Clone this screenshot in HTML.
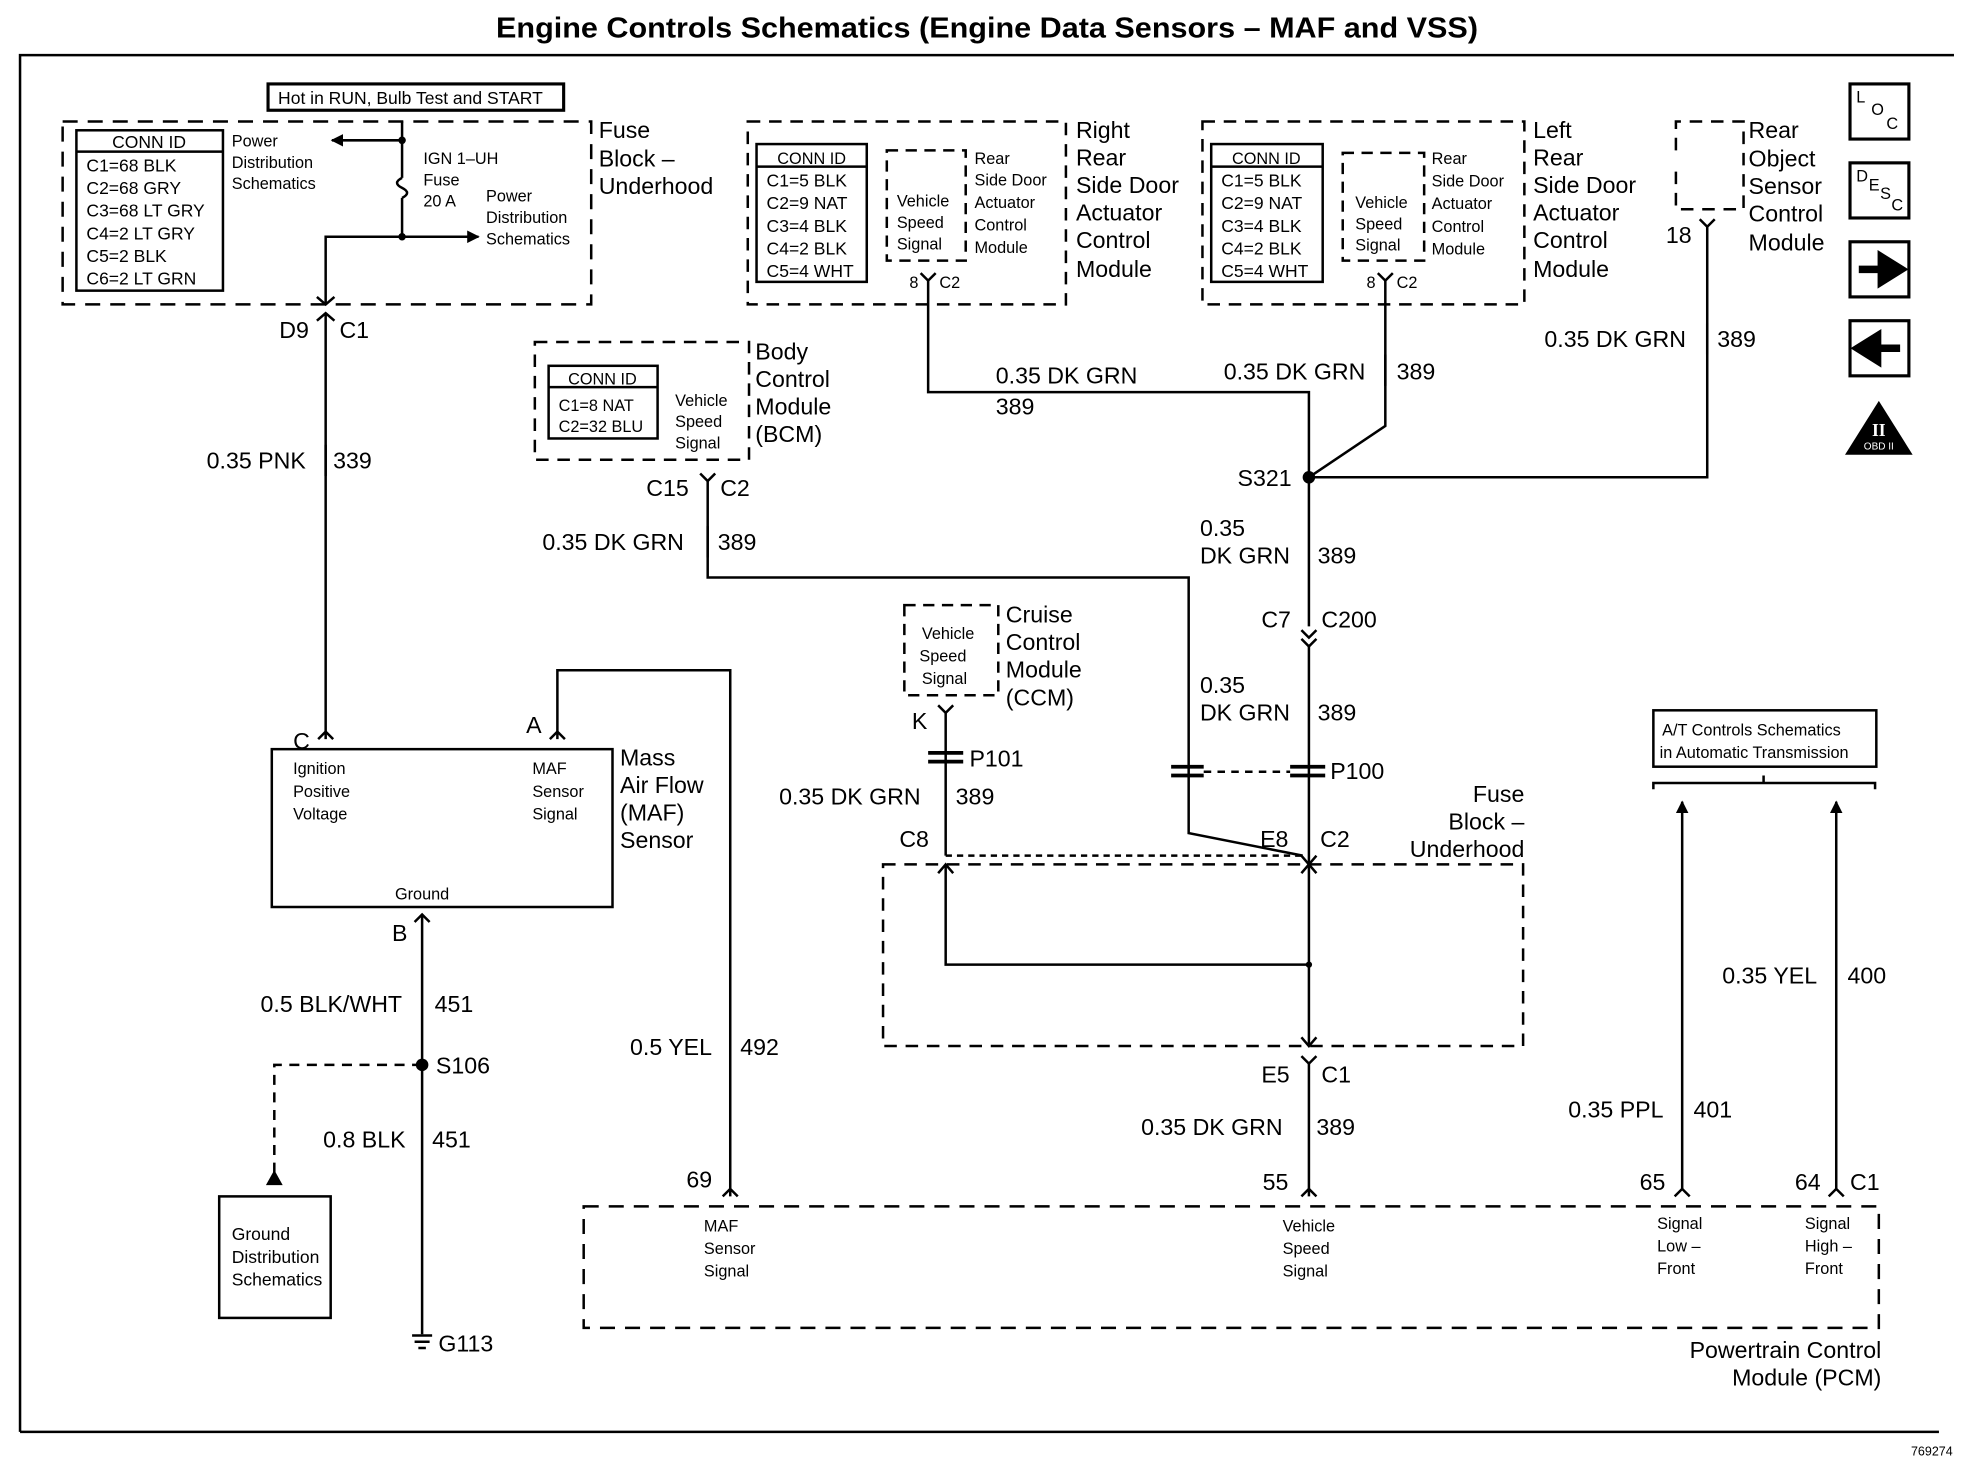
<!DOCTYPE html>
<html><head><meta charset="utf-8"><style>
html,body{margin:0;padding:0;background:#fff}
svg{display:block}
text{font-family:"Liberation Sans",Arial,sans-serif;fill:#000}
.l{font-size:18.5px}
.s{font-size:13px}
.m{font-size:14px}
</style></head><body>
<svg width="1964" height="1472" viewBox="0 0 1568 1175" preserveAspectRatio="none" xmlns="http://www.w3.org/2000/svg">
<defs>
<marker id="ar" markerWidth="10" markerHeight="10" refX="9" refY="5" orient="auto" markerUnits="userSpaceOnUse"><path d="M0,0 L10,5 L0,10 z" fill="#000"/></marker>
</defs>
<g stroke="#000" fill="none" stroke-width="2">
<path d="M16,1143 V44 H1560" />
<path d="M16,1143 H1548" />
<rect x="50" y="97" width="422" height="146" stroke-dasharray="12,8"/>
<rect x="61" y="104" width="117" height="128"/>
<line x1="61" y1="121" x2="178" y2="121"/>
<rect x="214" y="67" width="236" height="21" stroke-width="2.5"/>
<path d="M321,97 V142 M321,158 V189"/>
<path d="M321,142 q-8,4 0,8 q8,4 0,8"/>
<path d="M321,112 H265" marker-end="url(#ar)"/>
<path d="M321,189 H382" marker-end="url(#ar)"/>
<path d="M321,189 H260 V243"/>
<path d="M253,237 L260,243 L267,237"/>
<path d="M260,250 V590"/>
<path d="M253,256 L260,250 L267,256"/>
<rect x="217" y="598" width="272" height="126"/>
<path d="M254,590 L260,584 L266,590"/>
<path d="M445,590 V535 H583 V955"/>
<path d="M439,590 L445,584 L451,590"/>
<path d="M337,730 V1065"/>
<path d="M331,736 L337,730 L343,736"/>
<path d="M337,850 H219 V940" stroke-dasharray="8,6"/>
<path d="M214,945 L219,936 L224,945 z" fill="#000"/>
<rect x="175" y="955" width="89" height="97"/>
<path d="M329,1066 H345 M331,1071 H343 M334,1076 H340"/>
<rect x="427" y="273" width="171" height="94" stroke-dasharray="10,7"/>
<rect x="438" y="292" width="87" height="58"/>
<line x1="438" y1="309" x2="525" y2="309"/>
<path d="M565,384 V461 H949 V665 L1040,683"/>
<path d="M559,378 L565,384 L571,378"/>
<rect x="597" y="97" width="254" height="146" stroke-dasharray="10,7"/>
<rect x="604" y="115" width="88" height="110"/>
<line x1="604" y1="133" x2="692" y2="133"/>
<rect x="708" y="120" width="63" height="88" stroke-dasharray="9,6"/>
<path d="M741,224 V313 H1045 V500"/>
<path d="M735,218 L741,224 L747,218"/>
<rect x="960" y="97" width="257" height="146" stroke-dasharray="10,7"/>
<rect x="967" y="115" width="89" height="110"/>
<line x1="967" y1="133" x2="1056" y2="133"/>
<rect x="1072" y="122" width="65" height="86" stroke-dasharray="9,6"/>
<path d="M1106,224 V340 L1045,381"/>
<path d="M1100,218 L1106,224 L1112,218"/>
<path d="M1338,120 V97 H1392 V167 H1338 V135" stroke-dasharray="10,7"/>
<path d="M1363,181 V381 H1045"/>
<path d="M1357,175 L1363,181 L1369,175"/>
<path d="M1039,503 L1045,509 L1051,503 M1039,510 L1045,516 L1051,510"/>
<path d="M1045,516 V835"/>
<path d="M935,612 h26 M935,619 h26" stroke-width="3"/>
<path d="M1030,612 h28 M1030,619 h28" stroke-width="3"/>
<path d="M961,616 H1030" stroke-dasharray="6,5"/>
<rect x="705" y="690" width="511" height="145" stroke-dasharray="10,7"/>
<path d="M755,683 H1043" stroke-dasharray="5,4"/>
<path d="M755,690 V770 H1045"/>
<path d="M749,697 L755,690 L761,697"/>
<path d="M1039,683 L1045,690 L1051,683"/>
<path d="M1039,697 L1045,690 L1051,697"/>
<path d="M1039,828 L1045,835 L1051,828"/>
<path d="M1045,849 V955"/>
<path d="M1039,843 L1045,849 L1051,843"/>
<rect x="722" y="483" width="75" height="72" stroke-dasharray="9,6"/>
<path d="M755,569 V683"/>
<path d="M749,563 L755,569 L761,563"/>
<path d="M741,601 h28 M741,608 h28" stroke-width="3"/>
<rect x="466" y="963" width="1034" height="97" stroke-dasharray="12,8"/>
<path d="M577,955 L583,949 L589,955 M1039,955 L1045,949 L1051,955 M1337,955 L1343,949 L1349,955 M1460,955 L1466,949 L1472,955"/>
<path d="M1343,949 V640" marker-end="url(#ar)"/>
<path d="M1466,949 V640" marker-end="url(#ar)"/>
<rect x="1320" y="567" width="178" height="45"/>
<path d="M1320,630 V625 H1497 V630 M1408,625 V619"/>
<rect x="1477" y="67" width="47" height="44" stroke-width="2.5"/>
<rect x="1477" y="130" width="47" height="44" stroke-width="2.5"/>
<rect x="1477" y="193" width="47" height="44" stroke-width="2.5"/>
<rect x="1477" y="256" width="47" height="44" stroke-width="2.5"/>
</g>
<path d="M1484,215 H1502 V205 L1518,215 L1502,225 V215" fill="#000" stroke="#000" stroke-width="6" stroke-linejoin="miter"/>
<path d="M1517,278 H1499 V268 L1483,278 L1499,288 V278" fill="#000" stroke="#000" stroke-width="6"/>
<path d="M1500,320 L1527,363 H1473 z" fill="#000"/>
<text x="1500" y="348" text-anchor="middle" style="font-size:14px;font-family:'Liberation Serif',serif;fill:#fff;font-weight:bold">II</text>
<text x="1500" y="359" text-anchor="middle" style="font-size:8px;fill:#fff">OBD II</text>
<circle cx="321" cy="112" r="3"/><circle cx="321" cy="189" r="3"/>
<circle cx="337" cy="850" r="5"/><circle cx="1045" cy="381" r="5"/>
<circle cx="1045" cy="770" r="2.5"/>

<text x="396" y="30" textLength="784" lengthAdjust="spacingAndGlyphs" style="font-size:23px;font-weight:bold">Engine Controls Schematics (Engine Data Sensors – MAF and VSS)</text>
<text x="1559" y="1162" text-anchor="end" style="font-size:10px">769274</text>
<text x="1482" y="82" class="s">L</text><text x="1494" y="92" class="s">O</text><text x="1506" y="103" class="s">C</text>
<text x="1482" y="145" class="s">D</text><text x="1492" y="152" class="s">E</text><text x="1501" y="159" class="s">S</text><text x="1510" y="168" class="s">C</text>

<text x="222" y="83" class="m">Hot in RUN, Bulb Test and START</text>
<text x="119" y="118" class="m" text-anchor="middle">CONN ID</text>
<text x="69" y="137" class="m">C1=68 BLK</text>
<text x="69" y="155" class="m">C2=68 GRY</text>
<text x="69" y="173" class="m">C3=68 LT GRY</text>
<text x="69" y="191" class="m">C4=2 LT GRY</text>
<text x="69" y="209" class="m">C5=2 BLK</text>
<text x="69" y="227" class="m">C6=2 LT GRN</text>
<text x="185" y="117" class="s">Power</text><text x="185" y="134" class="s">Distribution</text><text x="185" y="151" class="s">Schematics</text>
<text x="338" y="131" class="s">IGN 1–UH</text><text x="338" y="148" class="s">Fuse</text><text x="338" y="165" class="s">20 A</text>
<text x="388" y="161" class="s">Power</text><text x="388" y="178" class="s">Distribution</text><text x="388" y="195" class="s">Schematics</text>
<text x="478" y="110" class="l">Fuse</text><text x="478" y="133" class="l">Block –</text><text x="478" y="155" class="l">Underhood</text>
<text x="223" y="270" class="l">D9</text><text x="271" y="270" class="l">C1</text>
<text x="165" y="374" class="l">0.35 PNK</text><text x="266" y="374" class="l">339</text>
<line x1="260" y1="355" x2="260" y2="380" stroke="#000" stroke-width="2"/>
<text x="234" y="598" class="l">C</text><text x="420" y="585" class="l">A</text>
<text x="234" y="618" class="s">Ignition</text><text x="234" y="636" class="s">Positive</text><text x="234" y="654" class="s">Voltage</text>
<text x="425" y="618" class="s">MAF</text><text x="425" y="636" class="s">Sensor</text><text x="425" y="654" class="s">Signal</text>
<text x="337" y="718" class="s" text-anchor="middle">Ground</text>
<text x="495" y="611" class="l">Mass</text><text x="495" y="633" class="l">Air Flow</text><text x="495" y="655" class="l">(MAF)</text><text x="495" y="677" class="l">Sensor</text>
<text x="313" y="751" class="l">B</text>
<text x="208" y="808" class="l">0.5 BLK/WHT</text><text x="347" y="808" class="l">451</text>
<text x="348" y="857" class="l">S106</text>
<text x="258" y="916" class="l">0.8 BLK</text><text x="345" y="916" class="l">451</text>
<text x="185" y="990" class="m">Ground</text><text x="185" y="1008" class="m">Distribution</text><text x="185" y="1026" class="m">Schematics</text>
<text x="350" y="1079" class="l">G113</text>
<text x="503" y="842" class="l">0.5 YEL</text><text x="591" y="842" class="l">492</text>
<text x="548" y="948" class="l">69</text>
<text x="481" y="307" class="s" text-anchor="middle">CONN ID</text>
<text x="446" y="328" class="s">C1=8 NAT</text><text x="446" y="345" class="s">C2=32 BLU</text>
<text x="539" y="324" class="s">Vehicle</text><text x="539" y="341" class="s">Speed</text><text x="539" y="358" class="s">Signal</text>
<text x="603" y="287" class="l">Body</text><text x="603" y="309" class="l">Control</text><text x="603" y="331" class="l">Module</text><text x="603" y="353" class="l">(BCM)</text>
<text x="516" y="396" class="l">C15</text><text x="575" y="396" class="l">C2</text>
<text x="433" y="439" class="l">0.35 DK GRN</text><text x="573" y="439" class="l">389</text>
<line x1="565" y1="420" x2="565" y2="445" stroke="#000" stroke-width="2"/>
<text x="648" y="131" class="s" text-anchor="middle">CONN ID</text>
<text x="612" y="149" class="m">C1=5 BLK</text><text x="612" y="167" class="m">C2=9 NAT</text><text x="612" y="185" class="m">C3=4 BLK</text><text x="612" y="203" class="m">C4=2 BLK</text><text x="612" y="221" class="m">C5=4 WHT</text>
<text x="716" y="165" class="s">Vehicle</text><text x="716" y="182" class="s">Speed</text><text x="716" y="199" class="s">Signal</text>
<text x="778" y="131" class="s">Rear</text><text x="778" y="148" class="s">Side Door</text><text x="778" y="166" class="s">Actuator</text><text x="778" y="184" class="s">Control</text><text x="778" y="202" class="s">Module</text>
<text x="726" y="230" class="s">8</text><text x="750" y="230" class="s">C2</text>
<text x="859" y="110" class="l">Right</text><text x="859" y="132" class="l">Rear</text><text x="859" y="154" class="l">Side Door</text><text x="859" y="176" class="l">Actuator</text><text x="859" y="198" class="l">Control</text><text x="859" y="221" class="l">Module</text>
<text x="795" y="306" class="l">0.35 DK GRN</text><text x="795" y="331" class="l">389</text>
<text x="1011" y="131" class="s" text-anchor="middle">CONN ID</text>
<text x="975" y="149" class="m">C1=5 BLK</text><text x="975" y="167" class="m">C2=9 NAT</text><text x="975" y="185" class="m">C3=4 BLK</text><text x="975" y="203" class="m">C4=2 BLK</text><text x="975" y="221" class="m">C5=4 WHT</text>
<text x="1082" y="166" class="s">Vehicle</text><text x="1082" y="183" class="s">Speed</text><text x="1082" y="200" class="s">Signal</text>
<text x="1143" y="131" class="s">Rear</text><text x="1143" y="149" class="s">Side Door</text><text x="1143" y="167" class="s">Actuator</text><text x="1143" y="185" class="s">Control</text><text x="1143" y="203" class="s">Module</text>
<text x="1091" y="230" class="s">8</text><text x="1115" y="230" class="s">C2</text>
<text x="1224" y="110" class="l">Left</text><text x="1224" y="132" class="l">Rear</text><text x="1224" y="154" class="l">Side Door</text><text x="1224" y="176" class="l">Actuator</text><text x="1224" y="198" class="l">Control</text><text x="1224" y="221" class="l">Module</text>
<text x="977" y="303" class="l">0.35 DK GRN</text><text x="1115" y="303" class="l">389</text>
<line x1="1106" y1="283" x2="1106" y2="308" stroke="#000" stroke-width="2"/>
<text x="1396" y="110" class="l">Rear</text><text x="1396" y="133" class="l">Object</text><text x="1396" y="155" class="l">Sensor</text><text x="1396" y="177" class="l">Control</text><text x="1396" y="200" class="l">Module</text>
<text x="1330" y="194" class="l">18</text>
<text x="1233" y="277" class="l">0.35 DK GRN</text><text x="1371" y="277" class="l">389</text>
<line x1="1363" y1="258" x2="1363" y2="283" stroke="#000" stroke-width="2"/>
<text x="988" y="388" class="l">S321</text>
<text x="958" y="428" class="l">0.35</text><text x="958" y="450" class="l">DK GRN</text><text x="1052" y="450" class="l">389</text>
<text x="1007" y="501" class="l">C7</text><text x="1055" y="501" class="l">C200</text>
<text x="958" y="553" class="l">0.35</text><text x="958" y="575" class="l">DK GRN</text><text x="1052" y="575" class="l">389</text>
<text x="1062" y="622" class="l">P100</text>
<text x="1217" y="640" class="l" text-anchor="end">Fuse</text><text x="1217" y="662" class="l" text-anchor="end">Block –</text><text x="1217" y="684" class="l" text-anchor="end">Underhood</text>
<text x="1006" y="676" class="l">E8</text><text x="1054" y="676" class="l">C2</text>
<text x="736" y="510" class="s">Vehicle</text><text x="734" y="528" class="s">Speed</text><text x="736" y="546" class="s">Signal</text>
<text x="803" y="497" class="l">Cruise</text><text x="803" y="519" class="l">Control</text><text x="803" y="541" class="l">Module</text><text x="803" y="563" class="l">(CCM)</text>
<text x="728" y="582" class="l">K</text>
<text x="774" y="612" class="l">P101</text>
<text x="622" y="642" class="l">0.35 DK GRN</text><text x="763" y="642" class="l">389</text>
<text x="718" y="676" class="l">C8</text>
<text x="1007" y="864" class="l">E5</text><text x="1055" y="864" class="l">C1</text>
<text x="911" y="906" class="l">0.35 DK GRN</text><text x="1051" y="906" class="l">389</text>
<text x="1008" y="950" class="l">55</text>
<text x="1327" y="587" class="s">A/T Controls Schematics</text><text x="1325" y="605" class="s">in Automatic Transmission</text>
<text x="1375" y="785" class="l">0.35 YEL</text><text x="1475" y="785" class="l">400</text>
<text x="1252" y="892" class="l">0.35 PPL</text><text x="1352" y="892" class="l">401</text>
<text x="1309" y="950" class="l">65</text><text x="1433" y="950" class="l">64</text><text x="1477" y="950" class="l">C1</text>
<text x="562" y="983" class="s">MAF</text><text x="562" y="1001" class="s">Sensor</text><text x="562" y="1019" class="s">Signal</text>
<text x="1024" y="983" class="s">Vehicle</text><text x="1024" y="1001" class="s">Speed</text><text x="1024" y="1019" class="s">Signal</text>
<text x="1323" y="981" class="s">Signal</text><text x="1323" y="999" class="s">Low –</text><text x="1323" y="1017" class="s">Front</text>
<text x="1441" y="981" class="s">Signal</text><text x="1441" y="999" class="s">High –</text><text x="1441" y="1017" class="s">Front</text>
<text x="1502" y="1084" class="l" text-anchor="end">Powertrain Control</text>
<text x="1502" y="1106" class="l" text-anchor="end">Module (PCM)</text>
</svg>
</body></html>
